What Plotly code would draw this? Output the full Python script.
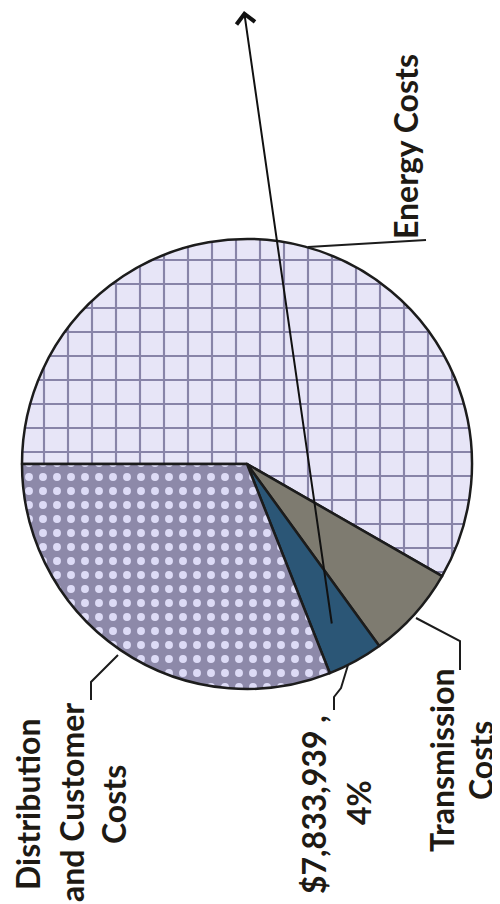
import plotly.graph_objects as go

# Udział kosztów (w %)
labels = ["Energy Costs", "Transmission Costs", "Other", "Distribution and Customer Costs"]
values = [58.3, 6.7, 4.0, 31.0]
fill_colors = ["#e7e5f7", "#7e7b70", "#2b5676", "#8d89a9"]
pattern_shapes = ["+", "", "", "."]
pattern_fg = ["#8884a8", "#7e7b70", "#2b5676", "#dddbf6"]
pattern_size = [24, 8, 8, 14]
pattern_solid = [0.17, 0.3, 0.3, 0.25]

# Etykiety (obrócone o 90 stopni, jak na skanie)
label_lines = {
    "energy": ["Energy Costs"],
    "distribution": ["Distribution", "and Customer", "Costs"],
    "other": ["$7,833,939 ,", "4%"],
    "transmission": ["Transmission", "Costs"],
}

W, H = 500, 904


def px(x, y):
    return x / W, 1 - y / H


fig = go.Figure()
fig.add_trace(go.Pie(
    labels=labels,
    values=values,
    sort=False,
    direction="clockwise",
    rotation=270,
    textinfo="none",
    hoverinfo="label+percent",
    showlegend=False,
    domain=dict(x=[14 / W, 464 / W], y=[1 - 681 / H, 1 - 231 / H]),
    marker=dict(
        colors=fill_colors,
        line=dict(color="#1c1c1c", width=2.5),
        pattern=dict(shape=pattern_shapes, fgcolor=pattern_fg, bgcolor=fill_colors,
                     size=pattern_size, solidity=pattern_solid),
    ),
))

# linie odniesienia
leaders = [
    [(300, 239), (418, 232)],
    [(110, 647), (83, 674), (83, 692)],
    [(340, 657), (333, 680), (326, 689), (326, 702)],
    [(408, 610), (452, 633), (452, 662)],
]
for pts in leaders:
    path = ""
    for i, (x, y) in enumerate(pts):
        xp, yp = px(x, y)
        path += ("M" if i == 0 else "L") + f"{xp},{yp} "
    fig.add_shape(type="path", path=path, xref="paper", yref="paper",
                  line=dict(color="#1c1c1c", width=2))

font = dict(family="Lato, sans-serif", size=32, color="#1e1a14", weight="bold")
text_pos = {
    "energy": [(397, 139)],
    "distribution": [(19, 797), (63, 795), (105, 797)],
    "other": [(305, 797), (350, 795)],
    "transmission": [(433, 752), (472, 753)],
}
for key, lines in label_lines.items():
    for line, (x, y) in zip(lines, text_pos[key]):
        xp, yp = px(x, y)
        fig.add_annotation(x=xp, y=yp, xref="paper", yref="paper", text=line,
                           textangle=-90, showarrow=False, font=font,
                           xanchor="center", yanchor="middle")

# strzałka
hx, hy = px(236, 3)
fig.add_annotation(x=hx, y=hy, xref="paper", yref="paper", text="",
                   showarrow=True, arrowhead=4, arrowsize=1.8, arrowwidth=2,
                   arrowcolor="#111111", ax=88, ay=614, axref="pixel", ayref="pixel")

fig.update_layout(
    width=W, height=H,
    margin=dict(l=0, r=0, t=0, b=0),
    paper_bgcolor="white",
    plot_bgcolor="white",
)
fig.write_html("out.html")
